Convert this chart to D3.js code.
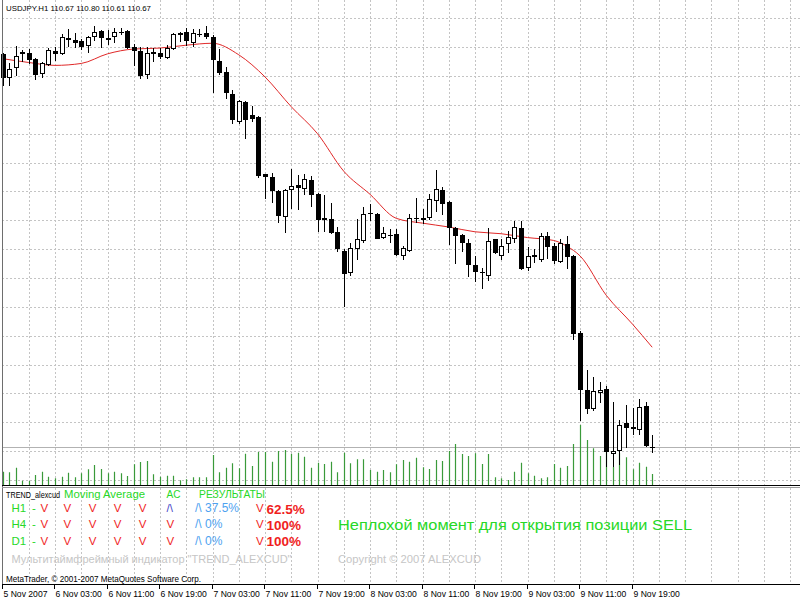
<!DOCTYPE html>
<html>
<head>
<meta charset="utf-8">
<script src="https://cdnjs.cloudflare.com/ajax/libs/d3/7.8.5/d3.min.js"></script>
<style>
  body { margin: 0; background: #fff; }
  svg { display: block; }
  text { font-family: "Liberation Sans", Arial, sans-serif; }
</style>
</head>
<body>
<svg width="800" height="600"></svg>
<script>
// USDJPY H1, 5 Nov 2007 19:00 .. 9 Nov 22:00 (100 bars)

var opens = [114.76,114.51,114.61,114.76,114.77,114.71,114.55,114.64,114.79,114.76,
  114.92,114.90,114.89,114.84,114.94,115.00,114.92,114.93,114.99,115.00,
  114.83,114.79,114.54,114.76,114.77,114.72,114.81,114.96,114.99,114.87,
  114.97,114.98,114.93,114.69,114.57,114.34,114.05,114.26,114.12,114.10,
  113.51,113.48,113.33,113.06,113.34,113.40,113.35,113.45,113.30,113.05,
  113.04,112.91,112.71,112.48,112.73,112.81,113.11,113.10,112.85,112.88,
  112.89,112.66,112.71,113.05,113.04,113.05,113.23,113.34,113.22,112.95,
  112.88,112.79,112.57,112.49,112.45,112.83,112.66,112.78,112.83,112.95,
  112.53,112.67,112.62,112.87,112.76,112.60,112.78,112.66,111.86,111.27,
  111.07,111.23,111.28,110.60,110.63,110.92,110.88,110.85,111.10,110.67];

var highs = [114.77,114.66,114.84,114.80,114.81,114.72,114.68,114.82,114.83,114.97,
  115.02,114.98,114.91,114.95,115.05,115.01,115.01,115.03,115.03,115.01,
  114.86,114.83,114.83,114.82,114.82,114.85,114.98,114.99,115.03,115.02,
  115.02,115.05,114.96,114.81,114.62,114.38,114.28,114.27,114.22,114.11,
  113.51,113.52,113.34,113.35,113.56,113.50,113.51,113.49,113.31,113.29,
  113.21,112.96,112.73,112.79,113.04,113.17,113.20,113.11,112.96,112.94,
  112.94,112.76,113.09,113.26,113.15,113.30,113.55,113.38,113.23,112.96,
  112.89,112.83,112.66,112.53,112.95,112.84,112.83,112.92,113.02,113.02,
  112.75,112.73,112.90,112.91,112.79,112.83,112.87,112.67,111.88,111.47,
  111.40,111.35,111.31,111.14,110.95,111.11,111.08,111.17,111.14,110.80];

var lows = [114.43,114.43,114.53,114.68,114.65,114.49,114.51,114.63,114.69,114.75,
  114.83,114.82,114.80,114.77,114.89,114.82,114.85,114.87,114.96,114.81,
  114.63,114.50,114.50,114.68,114.71,114.71,114.80,114.88,114.84,114.83,
  114.94,114.91,114.35,114.54,114.29,114.03,114.03,113.87,114.05,113.47,
  113.25,113.21,113.00,112.90,113.15,113.14,113.29,113.17,112.91,112.91,
  112.89,112.70,112.13,112.45,112.62,112.79,113.02,112.83,112.83,112.79,
  112.66,112.62,112.70,113.00,112.99,113.03,113.12,113.08,112.77,112.58,
  112.70,112.44,112.39,112.32,112.40,112.68,112.62,112.69,112.79,112.51,
  112.50,112.59,112.60,112.63,112.58,112.59,112.52,111.79,110.94,111.02,
  111.05,111.13,110.47,110.47,110.49,110.66,110.80,110.80,110.67,110.61];

var closes = [114.51,114.60,114.74,114.78,114.70,114.54,114.66,114.80,114.76,114.93,
  114.90,114.87,114.83,114.93,114.99,114.92,114.90,114.99,114.98,114.82,
  114.79,114.53,114.77,114.78,114.73,114.82,114.97,114.98,114.89,114.98,
  114.96,114.93,114.70,114.56,114.35,114.07,114.27,114.07,114.08,113.49,
  113.48,113.33,113.07,113.34,113.39,113.37,113.46,113.29,113.03,113.03,
  112.90,112.73,112.47,112.74,112.83,113.10,113.10,112.84,112.90,112.87,
  112.67,112.74,113.05,113.04,113.05,113.25,113.36,113.20,112.95,112.87,
  112.79,112.57,112.49,112.48,112.81,112.69,112.76,112.86,112.96,112.52,
  112.66,112.65,112.87,112.75,112.61,112.79,112.65,111.85,111.27,111.07,
  111.26,111.27,110.62,110.63,110.90,110.87,110.86,111.09,110.68,110.67];

var volumes = [530,510,690,170,160,400,530,330,270,330,
  490,310,470,630,800,640,470,530,470,360,
  830,920,960,430,330,370,370,190,230,310,
  310,310,1200,510,690,870,670,1250,760,1320,
  1320,930,1360,1400,1240,1290,1130,690,890,840,
  930,510,1290,870,1030,1030,600,530,600,510,
  830,1000,930,1090,710,640,1000,960,1360,1640,
  1240,1160,1270,840,1240,310,270,200,530,890,
  470,370,270,310,840,690,760,1640,2400,1800,
  1470,1160,1340,730,1280,1110,630,890,730,440];

// moving average, read at these bars
var maBars = [0,4,8,12,16,20,24,28,32,36,40,44,48,52,56,60,64,68,72,76,80,84,86,88,92,96,99];
var maValues = [114.71,114.67,114.64,114.66,114.76,114.81,114.82,114.85,114.87,114.75,
  114.52,114.21,113.93,113.54,113.30,113.05,113.00,112.96,112.91,112.89,
  112.85,112.82,112.76,112.66,112.25,111.95,111.71];

var gridPrices = [110.33,110.63,110.93,111.23,111.53,111.83,112.13,112.43,112.73,
  113.03,113.33,113.63,113.93,114.23,114.53,114.83,115.13];

var timeLabels = ["5 Nov 2007","6 Nov 03:00","6 Nov 11:00","6 Nov 19:00","7 Nov 03:00",
  "7 Nov 11:00","7 Nov 19:00","8 Nov 03:00","8 Nov 11:00","8 Nov 19:00",
  "9 Nov 03:00","9 Nov 11:00","9 Nov 19:00"];
var labelBars = [0,8,16,24,32,40,48,56,64,72,80,88,96];

var lastBar = {symbol: "USDJPY.H1", open: 110.67, high: 110.80, low: 110.61, close: 110.67};

var trendRows = ["H1","H4","D1"];
var maSignals = [["V","V","V","V","V"],["V","V","V","V","V"],["V","V","V","V","V"]];
var acSignals = ["/\\","V","V"];
var upResults = ["37.5%","0%","0%"];
var downResults = ["62.5%","100%","100%"];

var svg = d3.select("svg"),
    width = +svg.attr("width"),
    height = +svg.attr("height");

var mainBottom = 485, subTop = 488, subBottom = 584;

var x = d3.scaleLinear().domain([0, 99]).range([2.5, 652.2]);
var y = d3.scaleLinear().domain([110.33, 115.13]).range([480, 18.24]);
var vy = d3.scaleLinear().domain([0, 2500]).range([mainBottom, 422.5]);

svg.append("rect").attr("width", width).attr("height", height).attr("fill", "#fff");

// GRID

var grid = svg.append("g").attr("class", "grid")
    .attr("stroke", "#c4c4c4").attr("stroke-dasharray", "2,2")
    .attr("shape-rendering", "crispEdges");

grid.selectAll("line.h").data(gridPrices).enter().append("line")
    .attr("class", "h")
    .attr("x1", 2).attr("x2", width)
    .attr("y1", function(d) { return Math.round(y(d)) + 0.5; })
    .attr("y2", function(d) { return Math.round(y(d)) + 0.5; });

var gridBars = d3.range(4, 124, 4);
[[0, mainBottom], [subTop, subBottom]].forEach(function(span) {
  grid.append("g").selectAll("line").data(gridBars).enter().append("line")
      .attr("x1", function(d) { return Math.round(x(d)) + 0.5; })
      .attr("x2", function(d) { return Math.round(x(d)) + 0.5; })
      .attr("y1", span[0]).attr("y2", span[1]);
});

// bid line
svg.append("line")
    .attr("x1", 2).attr("x2", width)
    .attr("y1", Math.round(y(lastBar.close)) + 0.5).attr("y2", Math.round(y(lastBar.close)) + 0.5)
    .attr("stroke", "#b2b2b2").attr("shape-rendering", "crispEdges");

// VOLUMES

svg.append("g").attr("class", "volumes")
  .selectAll("line").data(volumes).enter().append("line")
    .attr("x1", function(d, i) { return Math.round(x(i)) + 0.5; })
    .attr("x2", function(d, i) { return Math.round(x(i)) + 0.5; })
    .attr("y1", mainBottom)
    .attr("y2", function(d) { return vy(d); })
    .attr("stroke", "#3a9a3a").attr("stroke-width", 1.2);

// MOVING AVERAGE

var maLine = d3.line()
    .x(function(d, i) { return x(maBars[i]); })
    .y(function(d) { return y(d); })
    .curve(d3.curveMonotoneX);

svg.append("path")
    .attr("d", maLine(maValues))
    .attr("fill", "none").attr("stroke", "#e02828").attr("stroke-width", 1);

// CANDLES

var candle = svg.append("g").attr("class", "candles")
    .attr("shape-rendering", "crispEdges")
  .selectAll("g").data(opens).enter().append("g");

candle.append("line")
    .attr("x1", function(d, i) { return Math.round(x(i)) + 0.5; })
    .attr("x2", function(d, i) { return Math.round(x(i)) + 0.5; })
    .attr("y1", function(d, i) { return Math.round(y(highs[i])); })
    .attr("y2", function(d, i) { return Math.round(y(lows[i])); })
    .attr("stroke", "#000");

candle.each(function(o, i) {
  var c = closes[i], cx = Math.round(x(i));
  var top = Math.round(y(Math.max(o, c))), bot = Math.round(y(Math.min(o, c)));
  var g = d3.select(this);
  if (bot - top < 1) {
    g.append("line").attr("x1", cx - 2).attr("x2", cx + 3)
        .attr("y1", top + 0.5).attr("y2", top + 0.5).attr("stroke", "#000");
  } else if (c < o) {
    g.append("rect").attr("x", cx - 2).attr("width", 5)
        .attr("y", top).attr("height", bot - top).attr("fill", "#000");
  } else {
    g.append("rect").attr("x", cx - 1.5).attr("width", 4)
        .attr("y", top + 0.5).attr("height", Math.max(1, bot - top - 1))
        .attr("fill", "#fff").attr("stroke", "#000");
  }
});

// FRAME

var frame = svg.append("g").attr("shape-rendering", "crispEdges");
frame.append("line").attr("x1", 2.5).attr("x2", 2.5).attr("y1", 0).attr("y2", subBottom)
    .attr("stroke", "#6e6e6e");
frame.append("line").attr("x1", 2).attr("x2", width).attr("y1", mainBottom + 0.5).attr("y2", mainBottom + 0.5)
    .attr("stroke", "#000");
frame.append("line").attr("x1", 2).attr("x2", width).attr("y1", mainBottom + 2.5).attr("y2", mainBottom + 2.5)
    .attr("stroke", "#9a9a9a");
frame.append("line").attr("x1", 2).attr("x2", width).attr("y1", subBottom + 0.5).attr("y2", subBottom + 0.5)
    .attr("stroke", "#000");

// title
svg.append("text")
    .attr("x", 6).attr("y", 11)
    .attr("font-size", 7.8).attr("fill", "#000")
    .attr("textLength", 145).attr("lengthAdjust", "spacingAndGlyphs")
    .text(lastBar.symbol + "  " + [lastBar.open, lastBar.high, lastBar.low, lastBar.close]
      .map(function(v) { return v.toFixed(2); }).join(" "));

// TIME AXIS

var axis = svg.append("g").attr("class", "time-axis");
axis.selectAll("line").data(labelBars).enter().append("line")
    .attr("x1", function(d) { return Math.round(x(d)) - 0.5; })
    .attr("x2", function(d) { return Math.round(x(d)) - 0.5; })
    .attr("y1", subBottom).attr("y2", subBottom + 5)
    .attr("stroke", "#000").attr("shape-rendering", "crispEdges");
axis.selectAll("text").data(timeLabels).enter().append("text")
    .attr("x", function(d, i) { return Math.round(x(labelBars[i])) + 0.5; })
    .attr("y", 597)
    .attr("font-size", 8.6).attr("fill", "#000")
    .text(function(d) { return d; });

// INDICATOR WINDOW (TREND_alexcud)

var green = "#27d827", red = "#f01e1e", lightBlue = "#4ea2f0";
var sub = svg.append("g").attr("class", "trend");

sub.append("text").attr("x", 6).attr("y", 498).attr("font-size", 8.4).attr("fill", "#000")
    .attr("textLength", 54).attr("lengthAdjust", "spacingAndGlyphs").text("TREND_alexcud");

var headers = [["Moving Average", 64, 81], ["AC", 166.5, 14], ["РЕЗУЛЬТАТЫ", 199, 66]];
sub.selectAll("text.hdr").data(headers).enter().append("text")
    .attr("class", "hdr")
    .attr("x", function(d) { return d[1]; }).attr("y", 498)
    .attr("font-size", 11).attr("fill", green)
    .attr("textLength", function(d) { return d[2]; }).attr("lengthAdjust", "spacingAndGlyphs")
    .text(function(d) { return d[0]; });

var maCols = [40.5, 63.5, 88.8, 113.8, 138.8];
var row = sub.selectAll("g.row").data(trendRows).enter().append("g")
    .attr("class", "row")
    .attr("transform", function(d, i) { return "translate(0," + (512 + i * 16.4) + ")"; });

row.append("text").attr("x", 11.5).attr("font-size", 11.5).attr("fill", green)
    .text(function(d) { return d; });
row.append("text").attr("x", 32).attr("font-size", 11.5).attr("fill", green).text("-");
row.each(function(d, r) {
  d3.select(this).selectAll("text.ma").data(maSignals[r]).enter().append("text")
      .attr("class", "ma")
      .attr("x", function(s, k) { return maCols[k]; })
      .attr("font-size", 11.5).attr("fill", red)
      .text(function(s) { return s; });
});
row.append("text").attr("x", 166.5).attr("font-size", 11.5)
    .attr("fill", function(d, i) { return acSignals[i] === "V" ? red : "#4646c8"; })
    .text(function(d, i) { return acSignals[i]; });
row.append("text").attr("x", 195).attr("font-size", 12).attr("fill", lightBlue)
    .text("/\\");
row.append("text").attr("x", 205).attr("font-size", 12).attr("fill", lightBlue)
    .text(function(d, i) { return upResults[i]; });
row.append("text").attr("x", 256).attr("font-size", 11.5).attr("fill", red).text("V");
row.append("text").attr("x", 266.5).attr("y", 1.5).attr("font-size", 13.5)
    .attr("font-weight", "bold").attr("fill", red)
    .text(function(d, i) { return downResults[i]; });

sub.append("text").attr("x", 338).attr("y", 530)
    .attr("font-size", 14).attr("fill", green)
    .attr("textLength", 354).attr("lengthAdjust", "spacingAndGlyphs")
    .text("Неплохой момент для открытия позиции SELL");

sub.append("text").attr("x", 11.5).attr("y", 563)
    .attr("font-size", 11.5).attr("fill", "#c6c6c6")
    .attr("textLength", 280).attr("lengthAdjust", "spacingAndGlyphs")
    .text("Мультитаймфреймный индикатор \"TREND_ALEXCUD\"");

sub.append("text").attr("x", 338).attr("y", 563)
    .attr("font-size", 11.5).attr("fill", "#c6c6c6")
    .attr("textLength", 143).attr("lengthAdjust", "spacingAndGlyphs")
    .text("Copyright © 2007 ALEXCUD");

sub.append("text").attr("x", 6).attr("y", 582)
    .attr("font-size", 8.4).attr("fill", "#000")
    .attr("textLength", 195).attr("lengthAdjust", "spacingAndGlyphs")
    .text("MetaTrader, © 2001-2007 MetaQuotes Software Corp.");
</script>
</body>
</html>
